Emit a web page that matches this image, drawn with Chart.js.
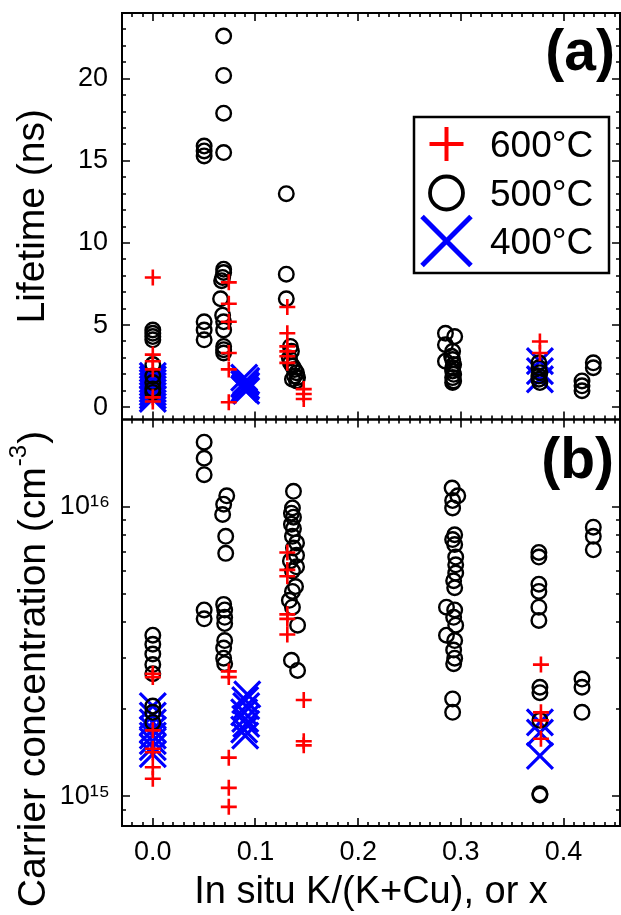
<!DOCTYPE html>
<html><head><meta charset="utf-8">
<script src="https://cdn.jsdelivr.net/npm/chart.js@4.4.1/dist/chart.umd.min.js"></script>
<style>html,body{margin:0;padding:0;background:#fff;}#wrap{width:621px;height:915px;position:relative;}</style>
</head><body><div id="wrap"><canvas id="c" width="621" height="915"></canvas></div>
<script>
// ---------------- data ----------------
const seriesLabels = ['600°C', '500°C', '400°C'];
const xTicks = [0.0, 0.1, 0.2, 0.3, 0.4];
const lifeTicks = [0, 5, 10, 15, 20];
const concTicks = [1e15, 1e16];
const concTickLabels = ['10¹⁵', '10¹⁶'];
const xTitle = 'In situ K/(K+Cu), or x';
const lifeTitle = 'Lifetime (ns)';
const concTitleMain = 'Carrier concentration (cm';
const concTitleSup = '-3';
const concTitleEnd = ')';

// (a) lifetime [x, ns]
const life600 = [[0.000,7.9],[0.000,3.2],[0.000,2.8],[0.000,2.3],[0.000,0.6],[0.000,0.35],
  [0.074,7.6],[0.074,6.3],[0.074,5.2],[0.074,3.3],[0.074,2.3],[0.074,0.3],
  [0.131,6.1],[0.131,4.5],[0.131,3.7],[0.131,3.4],[0.131,3.1],[0.131,2.7],
  [0.147,1.1],[0.147,0.8],[0.147,0.5],
  [0.377,4.0],[0.377,3.3]];
const life500 = [[0.000,4.7],[0.000,4.5],[0.000,4.3],[0.000,4.1],[0.000,2.6],[0.000,1.9],[0.000,1.5],[0.000,1.1],[0.000,0.9],
  [0.050,15.9],[0.050,15.6],[0.050,15.3],[0.050,5.2],[0.050,4.7],[0.050,4.1],
  [0.069,22.6],[0.069,20.2],[0.069,17.9],[0.069,15.5],[0.069,8.4],[0.069,8.2],[0.068,7.9],[0.067,7.7],[0.066,6.6],[0.068,5.6],[0.069,5.2],[0.069,4.7],[0.069,3.7],[0.069,3.5],[0.069,3.3],
  [0.130,13.0],[0.130,8.1],[0.130,6.6],[0.134,3.7],[0.135,3.4],[0.133,3.0],[0.134,2.7],[0.136,2.5],[0.138,2.3],[0.140,2.1],[0.138,1.9],[0.141,1.8],[0.136,1.7],[0.140,1.6],
  [0.285,4.5],[0.294,4.3],[0.285,3.8],[0.285,2.8],[0.292,3.4],[0.291,3.1],[0.292,2.9],[0.293,2.6],[0.292,2.4],[0.292,2.2],[0.293,2.0],[0.292,1.8],[0.293,1.6],[0.292,1.5],
  [0.376,2.7],[0.376,2.4],[0.377,2.1],[0.376,1.9],[0.376,1.7],[0.377,1.5],
  [0.418,1.6],[0.418,1.3],[0.418,1.0],
  [0.429,2.7],[0.429,2.4]];
const life400 = [[0.000,1.9],[0.000,1.7],[0.000,1.5],[0.000,1.3],[0.000,1.1],[0.000,0.9],[0.000,0.7],[0.000,0.5],
  [0.089,1.8],[0.091,1.6],[0.090,1.5],[0.089,1.4],[0.091,1.3],[0.090,1.2],[0.089,1.1],[0.091,1.0],
  [0.377,2.8],[0.377,2.2],[0.377,1.7]];

// (b) carrier concentration [x, cm^-3]
const conc600 = [[0.000,2.65e15],[0.000,2.58e15],[0.000,1.69e15],[0.000,1.46e15],[0.000,1.42e15],[0.000,1.26e15],[0.000,1.15e15],
  [0.074,2.7e15],[0.074,2.58e15],[0.074,1.36e15],[0.074,1.07e15],[0.074,9.2e14],
  [0.131,6.95e15],[0.131,6.05e15],[0.131,5.75e15],[0.131,4.25e15],[0.131,4.1e15],[0.131,3.62e15],
  [0.147,2.15e15],[0.147,1.55e15],[0.147,1.50e15],
  [0.378,2.85e15],[0.378,1.95e15],[0.378,1.83e15],[0.378,1.58e15]];
const conc500 = [[0.000,3.6e15],[0.000,3.35e15],[0.000,3.1e15],[0.000,2.85e15],[0.000,2.65e15],[0.000,2.05e15],[0.000,1.95e15],[0.000,1.8e15],
  [0.050,1.67e16],[0.050,1.47e16],[0.050,1.29e16],[0.050,4.4e15],[0.050,4.1e15],
  [0.072,1.09e16],[0.069,1.02e16],[0.068,9.4e15],[0.071,7.9e15],[0.071,6.9e15],[0.069,4.6e15],[0.070,4.4e15],[0.070,4.15e15],[0.070,3.95e15],[0.070,3.45e15],[0.069,3.25e15],[0.069,3.0e15],[0.070,2.87e15],
  [0.137,1.13e16],[0.136,9.9e15],[0.135,9.5e15],[0.137,9.2e15],[0.135,8.7e15],[0.137,8.4e15],[0.136,7.9e15],[0.140,7.5e15],[0.137,7.2e15],[0.140,6.8e15],[0.134,6.5e15],[0.140,6.2e15],[0.136,6.0e15],[0.139,5.3e15],[0.136,5.1e15],[0.133,4.75e15],[0.136,4.5e15],[0.141,3.9e15],[0.135,2.95e15],[0.141,2.72e15],
  [0.2915,1.16e16],[0.297,1.09e16],[0.292,1.05e16],[0.292,9.9e15],[0.294,8.0e15],[0.292,7.7e15],[0.294,7.4e15],[0.295,6.7e15],[0.295,6.3e15],[0.295,5.9e15],[0.293,5.55e15],[0.294,5.25e15],[0.286,4.5e15],[0.294,4.4e15],[0.293,4.15e15],[0.295,3.9e15],[0.286,3.6e15],[0.294,3.45e15],[0.293,3.2e15],[0.294,3.0e15],[0.293,2.87e15],[0.292,2.17e15],[0.292,1.95e15],
  [0.376,6.95e15],[0.376,6.7e15],[0.376,5.4e15],[0.376,5.1e15],[0.376,4.5e15],[0.376,4.05e15],[0.377,2.38e15],[0.377,2.28e15],[0.377,1.83e15],[0.377,1.02e15],[0.377,1.01e15],
  [0.418,2.54e15],[0.418,2.38e15],[0.418,1.95e15],
  [0.429,8.5e15],[0.429,7.9e15],[0.429,7.1e15]];
const conc400 = [[0.000,2.05e15],[0.000,1.9e15],[0.000,1.8e15],[0.000,1.7e15],[0.000,1.62e15],[0.000,1.55e15],[0.000,1.48e15],[0.000,1.4e15],
  [0.092,2.25e15],[0.090,2.15e15],[0.091,2.05e15],[0.089,1.95e15],[0.090,1.85e15],[0.091,1.78e15],[0.089,1.7e15],[0.090,1.62e15],
  [0.377,1.8e15],[0.377,1.66e15],[0.377,1.38e15]];

// ---------------- styling ----------------
const FAM = "'Liberation Sans', Arial, Helvetica, sans-serif";
const RED = '#ff0000', BLK = '#000000', BLUE = '#0000ff';
const styles = [
  {pointStyle:'cross', color:RED, r:8, bw:2.6, lr:17, lbw:4},
  {pointStyle:'circle', color:BLK, r:7.3, bw:2.4, lr:16.5, lbw:3.8},
  {pointStyle:'crossRot', color:BLUE, r:18.4, bw:3.2, lr:34.6, lbw:5}
];
const toPts = a => a.map(([x, y]) => ({x, y}));
function ds(i, data, axis) {
  const s = styles[i];
  return {label: seriesLabels[i], data: toPts(data), yAxisID: axis,
    pointStyle: s.pointStyle, pointRadius: s.r, pointHoverRadius: s.r,
    pointBorderWidth: s.bw, pointHoverBorderWidth: s.bw,
    pointBorderColor: s.color, pointBackgroundColor: 'rgba(0,0,0,0)', showLine: false};
}
function fixPad(s) { s.paddingTop = 0; s.paddingBottom = 0; s.paddingLeft = 0; s.paddingRight = 0; }

const framePlugin = {
  id: 'frame',
  afterDraw(chart) {
    const ctx = chart.ctx;
    const {left, right} = chart.chartArea;
    const x = chart.scales.x, y1 = chart.scales.y1, y2 = chart.scales.y2;
    ctx.save();
    ctx.strokeStyle = '#000';
    // ticks
    ctx.lineWidth = 1.6;
    ctx.beginPath();
    const xMinor = []; for (let k = -2; k <= 45; k++) xMinor.push(k / 100);
    const panels = [[y1.top, y1.bottom], [y2.top, y2.bottom]];
    panels.forEach(([t, b]) => {
      xMinor.forEach(v => {
        const px = Math.round(x.getPixelForValue(v));
        const major = Math.abs(v * 10 - Math.round(v * 10)) < 1e-6;
        const L = major ? 8 : 4;
        ctx.moveTo(px, t); ctx.lineTo(px, t + L);
        ctx.moveTo(px, b); ctx.lineTo(px, b - L);
      });
    });
    const lifeMinor = []; for (let k = 0; k <= 24; k++) lifeMinor.push(k);
    lifeMinor.forEach(v => {
      const py = Math.round(y1.getPixelForValue(v));
      const L = (v % 5 === 0) ? 8 : 4;
      ctx.moveTo(left, py); ctx.lineTo(left + L, py);
      ctx.moveTo(right, py); ctx.lineTo(right - L, py);
    });
    const concMinor = [9e14, 2e15, 3e15, 4e15, 5e15, 6e15, 7e15, 8e15, 9e15];
    concMinor.concat(concTicks).forEach(v => {
      const py = Math.round(y2.getPixelForValue(v));
      const L = concTicks.includes(v) ? 8 : 4;
      ctx.moveTo(left, py); ctx.lineTo(left + L, py);
      ctx.moveTo(right, py); ctx.lineTo(right - L, py);
    });
    ctx.stroke();
    // frames
    ctx.lineWidth = 2;
    panels.forEach(([t, b]) => ctx.strokeRect(left, t, right - left, b - t));
    // panel labels
    ctx.fillStyle = '#000';
    ctx.font = 'bold 57px ' + FAM;
    ctx.textAlign = 'right'; ctx.textBaseline = 'alphabetic';
    ctx.fillText('(a)', right - 5, y1.top + 57);
    ctx.fillText('(b)', right - 6, y2.top + 58.5);
    // legend
    const lx = 414, ly = 117, lw = 195, lh = 156;
    ctx.fillStyle = '#fff'; ctx.fillRect(lx, ly, lw, lh);
    ctx.lineWidth = 2.5; ctx.strokeRect(lx, ly, lw, lh);
    const rows = [144, 193, 241];
    const base = [157, 205.5, 253.5];
    styles.forEach((s, i) => {
      ctx.strokeStyle = s.color; ctx.fillStyle = 'rgba(0,0,0,0)'; ctx.lineWidth = s.lbw;
      if (Chart.helpers && Chart.helpers.drawPoint) {
        Chart.helpers.drawPoint(ctx, {pointStyle: s.pointStyle, radius: s.lr, rotation: 0, borderWidth: s.lbw}, 446.5, rows[i]);
      }
      ctx.fillStyle = '#000'; ctx.font = '37px ' + FAM; ctx.textAlign = 'left';
      ctx.fillText(seriesLabels[i], 490, base[i]);
    });
    // y2 title with superscript
    ctx.translate(34, 669);
    ctx.rotate(-Math.PI / 2);
    ctx.textBaseline = 'middle'; ctx.textAlign = 'left'; ctx.fillStyle = '#000';
    const mf = '39px ' + FAM, sf = '24px ' + FAM;
    ctx.font = mf; const w1 = ctx.measureText(concTitleMain).width; const w3 = ctx.measureText(concTitleEnd).width;
    ctx.font = sf; const w2 = ctx.measureText(concTitleSup).width;
    const x0 = -(w1 + w2 + w3 + 2) / 2;
    ctx.font = mf; ctx.fillText(concTitleMain, x0, 0);
    ctx.font = sf; ctx.fillText(concTitleSup, x0 + w1 + 1, -15);
    ctx.font = mf; ctx.fillText(concTitleEnd, x0 + w1 + w2 + 2, 0);
    ctx.restore();
  }
};

Chart.defaults.font.family = FAM;
Chart.defaults.color = '#000';

new Chart(document.getElementById('c'), {
  type: 'scatter',
  data: {datasets: [
    ds(0, life600, 'y1'), ds(1, life500, 'y1'), ds(2, life400, 'y1'),
    ds(0, conc600, 'y2'), ds(1, conc500, 'y2'), ds(2, conc400, 'y2')
  ]},
  options: {
    responsive: false, animation: false, events: [],
    layout: {autoPadding: false, padding: {left: 0, top: 13, right: 1, bottom: 0}},
    plugins: {legend: {display: false}, tooltip: {enabled: false}},
    scales: {
      x: {type: 'linear', position: 'bottom', min: -0.03, max: 0.455,
        afterBuildTicks: s => { s.ticks = xTicks.map(v => ({value: v})); },
        ticks: {callback: v => Number(v).toFixed(1), font: {size: 27}, color: '#000', padding: 10, maxRotation: 0, autoSkip: false},
        grid: {display: false, drawTicks: false}, border: {display: false},
        title: {display: true, text: xTitle, font: {size: 38}, color: '#000', padding: {top: 0, bottom: 0}},
        afterFit: s => { s.height = 89; fixPad(s); }
      },
      y1: {type: 'linear', position: 'left', stack: 'panels', stackWeight: 1, weight: 2, min: -0.75, max: 24,
        afterBuildTicks: s => { s.ticks = lifeTicks.map(v => ({value: v})); },
        ticks: {font: {size: 27}, color: '#000', padding: 14, autoSkip: false},
        grid: {display: false, drawTicks: false}, border: {display: false},
        title: {display: true, text: lifeTitle, font: {size: 39}, color: '#000', padding: {top: 10, bottom: 0}},
        afterFit: s => { s.width = 122; fixPad(s); }
      },
      y2: {type: 'logarithmic', position: 'left', stack: 'panels', stackWeight: 1, weight: 1, min: 7.9e14, max: 2e16,
        afterBuildTicks: s => { s.ticks = concTicks.map(v => ({value: v})); },
        ticks: {callback: (v, i) => concTickLabels[i], font: {size: 27}, color: '#000', padding: 12, autoSkip: false},
        grid: {display: false, drawTicks: false}, border: {display: false},
        title: {display: false},
        afterFit: s => { s.width = 122; fixPad(s); }
      }
    }
  },
  plugins: [framePlugin]
});
</script></body></html>
